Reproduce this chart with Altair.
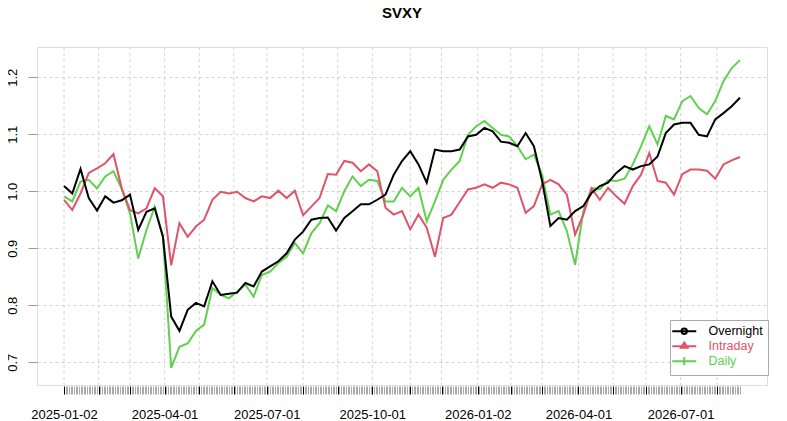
import altair as alt
import pandas as pd

HOLIDAYS = ["2025-01-20", "2025-02-17", "2025-04-18", "2025-05-26", "2025-06-19",
            "2025-07-04", "2025-09-01", "2025-11-27", "2025-12-25", "2026-01-01",
            "2026-01-19", "2026-02-16", "2026-04-03", "2026-05-25", "2026-06-19",
            "2026-07-03"]
START, END = "2025-01-02", "2026-08-21"
STEP = 5  # values read every 5th trading day

SERIES = ["Overnight", "Intraday", "Daily"]
COLORS = ["#000000", "#DF536B", "#61D04F"]

overnight = [1.009, 0.996, 1.039, 0.988, 0.966, 0.991, 0.980, 0.984, 0.994, 0.932,
             0.964, 0.970, 0.920, 0.780, 0.755, 0.792, 0.804, 0.798, 0.842, 0.818,
             0.820, 0.822, 0.839, 0.833, 0.859, 0.868, 0.877, 0.891, 0.915, 0.929,
             0.950, 0.953, 0.954, 0.931, 0.953, 0.965, 0.977, 0.977, 0.985, 0.994,
             1.029, 1.053, 1.070, 1.047, 1.015, 1.073, 1.070, 1.070, 1.073, 1.096,
             1.099, 1.111, 1.105, 1.087, 1.085, 1.079, 1.102, 1.079, 1.018, 0.939,
             0.953, 0.950, 0.965, 0.974, 0.997, 1.009, 1.015, 1.032, 1.044, 1.038,
             1.044, 1.047, 1.061, 1.102, 1.117, 1.120, 1.120, 1.099, 1.096, 1.126,
             1.137, 1.149, 1.164]
intraday = [0.985, 0.967, 0.996, 1.032, 1.040, 1.049, 1.065, 1.005, 0.967, 0.961,
            0.970, 1.005, 0.991, 0.870, 0.944, 0.920, 0.938, 0.950, 0.985, 0.999,
            0.996, 0.999, 0.988, 0.982, 0.991, 0.988, 1.001, 0.988, 1.001, 0.958,
            0.973, 0.988, 1.030, 1.029, 1.053, 1.050, 1.035, 1.047, 1.035, 0.971,
            0.959, 0.965, 0.933, 0.959, 0.936, 0.885, 0.953, 0.959, 0.981, 1.003,
            1.006, 1.012, 1.006, 1.015, 1.012, 1.006, 0.962, 0.974, 1.012, 1.020,
            1.012, 0.994, 0.924, 0.959, 1.005, 0.985, 1.006, 0.991, 0.978, 1.009,
            1.029, 1.067, 1.018, 1.015, 0.994, 1.030, 1.038, 1.038, 1.036, 1.022,
            1.047, 1.054, 1.060]
daily = [0.991, 0.982, 1.017, 1.020, 1.005, 1.026, 1.035, 1.004, 0.961, 0.882,
         0.932, 0.973, 0.920, 0.690, 0.727, 0.733, 0.755, 0.766, 0.830, 0.818,
         0.812, 0.824, 0.836, 0.815, 0.853, 0.859, 0.874, 0.885, 0.909, 0.891,
         0.926, 0.944, 0.975, 0.965, 1.000, 1.026, 1.009, 1.020, 1.018, 0.982,
         0.982, 1.006, 0.991, 1.006, 0.947, 0.982, 1.020, 1.038, 1.053, 1.099,
         1.114, 1.123, 1.111, 1.099, 1.096, 1.079, 1.056, 1.064, 1.029, 0.959,
         0.965, 0.930, 0.871, 0.965, 1.006, 1.003, 1.019, 1.018, 1.022, 1.047,
         1.079, 1.114, 1.082, 1.132, 1.126, 1.158, 1.167, 1.146, 1.135, 1.158,
         1.193, 1.216, 1.230]

Y_TICKS = [0.7, 0.8, 0.9, 1.0, 1.1, 1.2]
Y_DOMAIN = [0.66, 1.253]

FONT = "Liberation Sans"

# trading-day calendar used as the x index
days = pd.bdate_range(START, END, freq="C", holidays=HOLIDAYS)
N = len(days)

rows = []
for name, vals in [("Daily", daily), ("Intraday", intraday), ("Overnight", overnight)]:
    for k, v in enumerate(vals):
        i = min(k * STEP, N - 1)
        rows.append({"idx": i, "date": days[i].strftime("%Y-%m-%d"),
                     "series": name, "value": v})
df = pd.DataFrame(rows)

month_idx = [i for i in range(N) if i == 0 or days[i].month != days[i - 1].month]
label_idx = [i for i in month_idx if days[i].month in (1, 4, 7, 10)]

label_expr = ""
for i in label_idx:
    label_expr += f"datum.value == {i} ? '{days[i].strftime('%Y-%m-%d')}' : "
label_expr += "''"
month_list = ",".join(str(i) for i in month_idx)

x_scale = alt.Scale(domain=[-0.04 * (N - 1), 1.04 * (N - 1)], nice=False, zero=False)
y_scale = alt.Scale(domain=Y_DOMAIN, nice=False, zero=False)

x_axis = alt.Axis(
    values=list(range(N)), labelExpr=label_expr, labelOverlap=False, labelFlush=False,
    grid=False, domain=False, ticks=True, tickSize=8, tickWidth=1, offset=1,
    tickColor={"condition": {"test": f"indexof([{month_list}], datum.value) >= 0",
                             "value": "#000000"}, "value": "#aaaaaa"},
    labelFont=FONT, labelFontSize=13, labelColor="black", labelPadding=14, title=None,
)
y_axis = alt.Axis(
    values=Y_TICKS, format=".1f", grid=True, gridColor="#d3d3d3", gridDash=[3, 3],
    domain=False, tickColor="#999999", tickSize=9, labelAngle=270, labelAlign="center",
    labelBaseline="alphabetic", labelPadding=12, labelFont=FONT, labelFontSize=13,
    labelColor="black", title=None,
)

X = alt.X("idx:Q", scale=x_scale, axis=x_axis, title=None)
Y = alt.Y("value:Q", scale=y_scale, axis=y_axis, title=None)

grid = alt.Chart(pd.DataFrame({"idx": month_idx})).mark_rule(
    color="#d3d3d3", strokeDash=[3, 3], strokeWidth=1
).encode(x=X)

# line colours: data-derived (alphabetical) domain, range ordered to match
line_range = [COLORS[SERIES.index(s)] for s in sorted(SERIES)]
lines = alt.Chart(df).mark_line(strokeWidth=2).encode(
    x=X, y=Y,
    stroke=alt.Stroke("series:N", scale=alt.Scale(range=line_range), legend=None),
    order=alt.Order("idx:Q"),
)

SHAPES = [
    "M-3,0H5M0.1,0A0.9,0.9,0,1,0,1.9,0A0.9,0.9,0,1,0,0.1,0Z",
    "M-3,0H5M1,-1.2L2.1,0.5L-0.1,0.5Z",
    "M-3,0H5M1,-1.3V1.3",
]
color_expr = "".join(f"datum.value === '{s}' ? '{c}' : " for s, c in zip(SERIES, COLORS)) + "'black'"
legend = alt.Legend(
    title=None, orient="none", legendX=633, legendY=273, padding=5,
    strokeColor="#aaaaaa", fillColor="white", cornerRadius=0,
    symbolSize=36, symbolStrokeWidth=2, symbolOpacity=1, labelOffset=21, rowPadding=0,
    labelFont=FONT, labelFontSize=12.5, labelColor={"expr": color_expr},
)
keys = alt.Chart(df).mark_point(filled=False, opacity=0, size=1, strokeWidth=2).encode(
    x=X, y=Y,
    color=alt.Color("series:N", scale=alt.Scale(domain=SERIES, range=COLORS), legend=legend),
    shape=alt.Shape("series:N", scale=alt.Scale(domain=SERIES, range=SHAPES), legend=legend),
)

chart = alt.layer(grid, lines, keys).properties(
    width=730, height=338,
    title=alt.TitleParams("SVXY", font=FONT, fontSize=15, fontWeight="bold",
                          color="black", anchor="middle", offset=26),
    autosize=alt.AutoSizeParams(type="none"),
    padding={"left": 29, "top": 39, "right": 12, "bottom": 36},
).configure_view(stroke="#aaaaaa", strokeWidth=1).configure(background="white")

chart.save("out.html", embed_options={"renderer": "svg", "actions": False})
